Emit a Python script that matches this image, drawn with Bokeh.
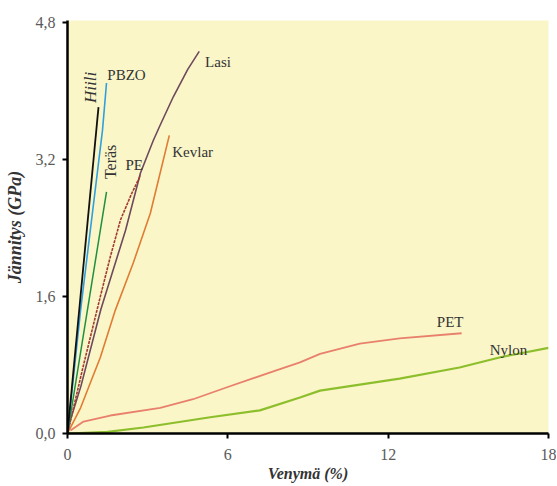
import numpy as np
from bokeh.plotting import figure
from bokeh.models import Range1d, ColumnDataSource
from bokeh.core.properties import value
from bokeh.embed import file_html
from bokeh.resources import INLINE

# ---- data (strain %, stress GPa) ----
hiili_x = [0.0, 1.16]
hiili_y = [0.0, 3.81]
pbzo_x = [0.0, 0.49, 1.31, 1.46]
pbzo_y = [0.0, 1.44, 3.54, 4.09]
teras_x = [0.0, 1.46]
teras_y = [0.0, 2.82]
pe_x = [0.0, 0.6, 1.23, 1.6, 1.98, 2.4, 2.73]
pe_y = [0.0, 0.8, 1.6, 2.06, 2.49, 2.8, 3.01]
lasi_x = [0.0, 0.1, 0.5, 1.25, 1.6, 2.17, 2.73, 3.21, 3.47, 3.96, 4.5, 4.93]
lasi_y = [0.0, 0.15, 0.55, 1.45, 1.8, 2.37, 3.04, 3.42, 3.6, 3.93, 4.25, 4.46]
kevlar_x = [0.0, 0.49, 1.23, 1.79, 2.46, 3.1, 3.81]
kevlar_y = [0.0, 0.30, 0.89, 1.44, 1.99, 2.57, 3.48]
pet_x = [0.11, 0.6, 1.6, 3.47, 4.7, 5.97, 7.84, 8.7, 9.45, 10.94, 12.43, 14.75]
pet_y = [0.035, 0.14, 0.21, 0.30, 0.40, 0.54, 0.74, 0.83, 0.93, 1.05, 1.11, 1.17]
nylon_x = [0.0, 1.5, 2.84, 5.34, 7.2, 8.7, 9.45, 12.43, 14.67, 16.2, 18.0]
nylon_y = [0.0, 0.02, 0.07, 0.19, 0.27, 0.42, 0.50, 0.64, 0.77, 0.89, 1.0]

x_ticks = [0, 6, 12, 18]
y_ticks = [0.0, 1.6, 3.2, 4.8]
y_tick_labels = ["0,0", "1,6", "3,2", "4,8"]

# labels (text, anchor x, anchor y)
lab_text = ["PBZO", "Lasi", "PE", "Kevlar", "PET", "Nylon"]
lab_x = [1.49, 5.15, 2.17, 3.92, 13.82, 15.8]
lab_y = [4.18, 4.33, 3.13, 3.28, 1.30, 0.97]
hiili_lab = ["Hiili"]
hiili_lab_x = [0.86]
hiili_lab_y = [4.04]
teras_lab = ["Teräs"]
teras_lab_x = [1.61]
teras_lab_y = [3.17]

FONT = "Liberation Serif"

p = figure(width=556, height=485, output_backend="svg", toolbar_location=None,
           x_range=Range1d(0, 18), y_range=Range1d(0, 4.82),
           min_border_left=67, min_border_top=20, min_border_right=8, min_border_bottom=52)
p.background_fill_color = "#FAF6C8"
p.border_fill_color = "white"
p.outline_line_color = None
p.grid.visible = False

for ax in (p.xaxis[0], p.yaxis[0]):
    ax.axis_line_color = "black"
    ax.axis_line_width = 2.5
    ax.major_tick_line_color = "black"
    ax.major_tick_line_width = 2
    ax.major_tick_out = 5
    ax.major_tick_in = 0
    ax.minor_tick_line_color = None
    ax.major_label_text_font = FONT
    ax.major_label_text_font_size = "16px"
    ax.major_label_text_color = "#5a5a5a"
    ax.axis_label_text_font = FONT
    ax.axis_label_text_font_style = "bold italic"
    ax.axis_label_text_color = "#333333"

p.xaxis.axis_label_text_font_size = "16px"
p.yaxis.axis_label_text_font_size = "18px"
p.xaxis.ticker = x_ticks
p.yaxis.ticker = y_ticks
p.yaxis.major_label_overrides = {t: l for t, l in zip(y_ticks, y_tick_labels)}
p.xaxis.axis_label = "Venymä (%)"
p.yaxis.axis_label = "Jännitys (GPa)"
p.xaxis.major_label_standoff = 10
p.yaxis.major_label_standoff = 7
p.xaxis.axis_label_standoff = 2
p.yaxis.axis_label_standoff = 8

p.line(nylon_x, nylon_y, line_color="#8DBE2C", line_width=2.2)
p.line(pet_x, pet_y, line_color="#E8806C", line_width=1.8)
p.line(kevlar_x, kevlar_y, line_color="#E07C34", line_width=1.6)
p.line(lasi_x, lasi_y, line_color="#6E4A5C", line_width=1.6)
p.line(pe_x, pe_y, line_color="#A33A30", line_width=1.6, line_dash="3 1")
p.line(teras_x, teras_y, line_color="#1E9040", line_width=1.5)
p.line(pbzo_x, pbzo_y, line_color="#2EA0E0", line_width=1.6)
p.line(hiili_x, hiili_y, line_color="#111111", line_width=1.8)

src = ColumnDataSource(dict(x=lab_x, y=lab_y, t=lab_text))
p.text(x="x", y="y", text="t", source=src, text_font=value(FONT),
       text_font_size="15px", text_color="#333333",
       text_align="left", text_baseline="middle")
p.text(x=hiili_lab_x, y=hiili_lab_y, text=hiili_lab, text_font=value(FONT),
       text_font_size="17px", text_color="#333333", angle=np.pi / 2,
       text_align="center", text_baseline="middle", text_font_style="italic")
p.text(x=teras_lab_x, y=teras_lab_y, text=teras_lab, text_font=value(FONT),
       text_font_size="16px", text_color="#333333", angle=np.pi / 2,
       text_align="center", text_baseline="middle")

open("out.html", "w").write(file_html(p, INLINE))
